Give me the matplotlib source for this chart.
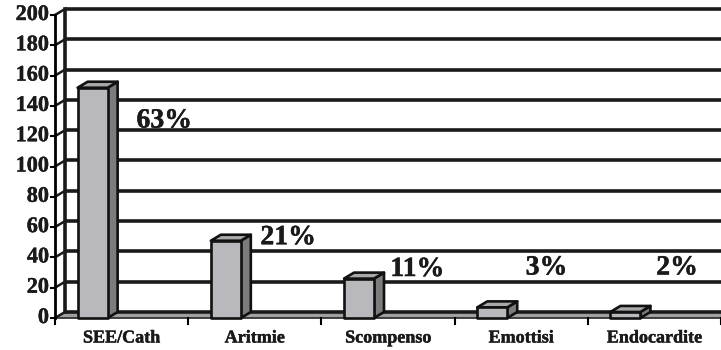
import matplotlib.pyplot as plt
import matplotlib.patheffects as pe
from matplotlib.patches import Polygon, Rectangle
import numpy as np

# dati
categorie = ["SEE/Cath", "Aritmie", "Scompenso", "Emottisi", "Endocardite"]
casi = [152, 51, 26, 7, 4]
percentuali = [round(v / sum(casi) * 100) for v in casi]
yticks = list(range(0, 201, 20))

# posizione etichette percentuali (in unità del grafico)
etich_x = [0.82, 1.75, 2.72, 3.69, 4.67]
etich_y = [130, 53, 32, 33, 33]

plt.rcParams['font.family'] = ['Liberation Serif', 'DejaVu Serif']
plt.rcParams['font.weight'] = 'bold'

W, H, DPI = 721, 350, 100
fig = plt.figure(figsize=(W / DPI, H / DPI), dpi=DPI)
fig.patch.set_facecolor('white')

# piano frontale: x da 55 a 721 px, y da 318 (0) a 15 (200)
x0, x1 = 55, 721
y0, y1 = 318, 15
ax = fig.add_axes([x0 / W, 1 - y0 / H, (x1 - x0) / W, (y0 - y1) / H])
ax.set_xlim(0, len(categorie))
ax.set_ylim(0, 200)
ax.axis('off')

# profondità 3D in pixel -> unità dati
px_x = (x1 - x0) / len(categorie)
px_y = (y0 - y1) / 200
dx = 10 / px_x
dy = 6 / px_y

grid_col = '#1a1a1a'
txt_fx = [pe.withStroke(linewidth=0.3, foreground='#1a1a1a')]

# pavimento
ax.add_patch(Polygon([(0, 0), (5, 0), (5 + dx, dy), (dx, dy)], closed=True,
                     facecolor='#a0a0a0', edgecolor='none', clip_on=False, zorder=1))
ax.plot([0, 5], [0, 0], color='#333333', lw=1.3, clip_on=False, zorder=2)

# griglia parete di fondo e parete laterale
for t in yticks:
    ax.plot([dx, 5 + dx], [t + dy, t + dy], color=grid_col, lw=2.6,
            solid_capstyle='butt', clip_on=False, zorder=2)
    ax.plot([0, dx], [t, t + dy], color=grid_col, lw=1.8, clip_on=False, zorder=2)
    ax.plot([-4 / px_x, 0], [t, t], color='black', lw=1.5, clip_on=False, zorder=3)
    ax.text(-6 / px_x, t, str(t), ha='right', va='center', fontsize=16,
            fontweight='bold', color='#1a1a1a', clip_on=False, path_effects=txt_fx)
ax.plot([dx, dx], [dy, 200 + dy], color=grid_col, lw=2.6, clip_on=False, zorder=2)
ax.plot([0, 0], [0, 200], color='black', lw=2.0, clip_on=False, zorder=3)

# tacche asse x e nomi categorie
for i in range(len(categorie) + 1):
    ax.plot([i, i], [0, -6 / px_y], color='black', lw=1.5, clip_on=False, zorder=3)
for i, nome in enumerate(categorie):
    ax.text(i + 0.5, -20 / px_y, nome, ha='center', va='center', fontsize=13,
            fontweight='bold', color='#1a1a1a', clip_on=False, path_effects=txt_fx)

# colonne 3D
w = 0.225
for i, v in enumerate(casi):
    left = i + 0.17
    right = left + w
    ax.add_patch(Polygon([(right, 0), (right + dx, dy), (right + dx, v + dy), (right, v)],
                         closed=True, facecolor='#7c7c7c', edgecolor='#111111',
                         lw=1.9, joinstyle='round', clip_on=False, zorder=5))
    ax.add_patch(Polygon([(left, v), (right, v), (right + dx, v + dy), (left + dx, v + dy)],
                         closed=True, facecolor='#a9a9ab', edgecolor='#111111',
                         lw=1.9, joinstyle='round', clip_on=False, zorder=5))
    ax.add_patch(Rectangle((left, 0), w, v, facecolor='#b9b9bd', edgecolor='#111111',
                           lw=1.9, joinstyle='round', clip_on=False, zorder=6))

# etichette percentuali
for xt, yt, p in zip(etich_x, etich_y, percentuali):
    ax.text(xt, yt, f"{p}%", ha='center', va='center', fontsize=20,
            fontweight='bold', color='#1a1a1a', zorder=7, path_effects=txt_fx)

fig.savefig('out.png', dpi=DPI, facecolor='white')
